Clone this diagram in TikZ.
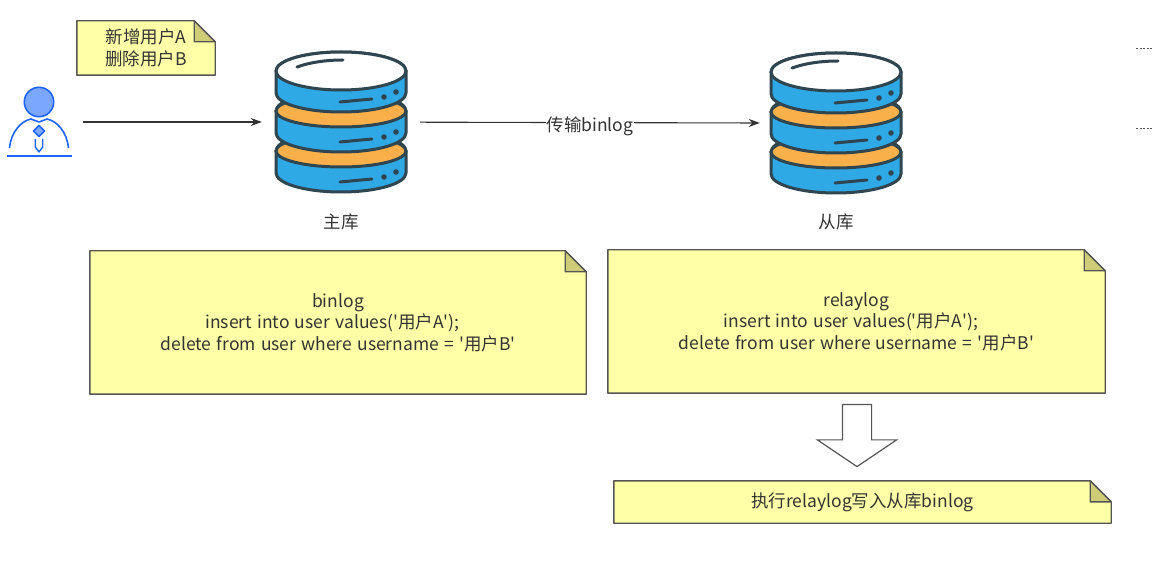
\documentclass[tikz,border=0pt]{standalone}
\usepackage{fontspec}
\setmainfont{Noto Sans CJK SC}[WordSpace=1.33]
\usepackage{xcolor}
\usetikzlibrary{arrows.meta, positioning, shapes.arrows, backgrounds}

\definecolor{inkgray}{HTML}{333333}
\definecolor{noteline}{HTML}{555555}
\definecolor{notefill}{HTML}{FFFFA8}
\definecolor{notefold}{HTML}{CFCC78}
\definecolor{dbline}{HTML}{2F4550}
\definecolor{dbblue}{HTML}{2EA9E6}
\definecolor{dborange}{HTML}{F9B04A}
\definecolor{userline}{HTML}{1F66FF}
\definecolor{userfill}{HTML}{7BA7FF}

% folded corner behind a note node
\newcommand{\notecorner}[1]{
    \begin{scope}[on background layer]
        \draw [noteline, line width=1.4, fill=notefill, line join=round] (#1.south west) -- (#1.north west) -- ([xshift=-21]#1.north east) -- ([yshift=-21]#1.north east) -- (#1.south east) -- cycle;
        \draw [noteline, line width=1.4, fill=notefold, line join=round] ([xshift=-21]#1.north east) -- ([yshift=-21]#1.north east) -- ([xshift=-21,yshift=-21]#1.north east) -- cycle;
    \end{scope}
}

\tikzset{
    dblayer/.pic={
        \draw [dbline, line width=3, fill=dbblue, line join=round] (-65,0) -- (-65,-22) arc[start angle=180, end angle=360, x radius=65, y radius=19] -- (65,0) arc[start angle=0, end angle=180, x radius=65, y radius=19] -- cycle;
        \draw [dbline, line width=3, line cap=round] (-1,-31) -- (31,-28);
        \fill [dbline] (43,-26) circle (2.8) (55,-21) circle (2.8);
    },
    dbstack/.pic={
        \pic at (0,-29) {dblayer};
        \draw [dbline, line width=3, fill=dborange] (0,-29) ellipse (65 and 16);
        \pic at (0,11) {dblayer};
        \draw [dbline, line width=3, fill=dborange] (0,11) ellipse (65 and 16);
        \pic at (0,51) {dblayer};
        \draw [dbline, line width=3, fill=white] (0,51) ellipse (65 and 19);
        \draw [dbline, line width=3, line cap=round] (-44,55) .. controls (-30,60) and (-14,62) .. (2,62);
    }
}

\begin{document}
\begin{tikzpicture}[x=1pt, y=1pt, font=\fontsize{17.5}{21.5}\selectfont, text=inkgray]
    \tikzstyle{note} = [rectangle, inner sep=0pt, align=center, text=inkgray]
    \tikzstyle{holder} = [rectangle, inner sep=0pt, minimum width=158, minimum height=140]
    \tikzstyle{arrow} = [draw=inkgray, line width=1.1, -{Stealth[length=11, width=8]}]

    \useasboundingbox (0,0) rectangle (1152,-561);

    \node (user) [rectangle, inner sep=0pt, minimum width=88, minimum height=70] at (39,-122) {};
    \node (master) [holder] at (341,-122) {};
    \node (slave) [holder] at (836,-123) {};

    \pic at (master.center) {dbstack};
    \pic at (slave.center) {dbstack};

    % user figure
    \draw [userline, line width=1.6, fill=userfill] ([yshift=20]user.center) circle (14.7);
    \draw [userline, line width=1.6, line join=round] ([shift={(-29.5,-26)}]user.center) .. controls ++(1.5,16) and ++(-10,-2) .. ([shift={(-8,3)}]user.center) -- (user.center) -- ([shift={(8,3)}]user.center) .. controls ++(10,-2) and ++(-1.5,16) .. ([shift={(29.5,-26)}]user.center);
    \draw [userline, line width=1.6, fill=userfill, line join=round] ([shift={(0,-3.5)}]user.center) -- ([shift={(5.5,-9)}]user.center) -- ([shift={(0,-14.5)}]user.center) -- ([shift={(-5.5,-9)}]user.center) -- cycle;
    \draw [userline, line width=1.4, line join=round] ([shift={(-3.7,-17)}]user.center) -- ([shift={(-3.7,-25)}]user.center) -- ([shift={(0,-30)}]user.center) -- ([shift={(3.7,-25)}]user.center) -- ([shift={(3.7,-17)}]user.center);
    \draw [userline, line width=1.6] ([shift={(-32.5,-34)}]user.center) -- ([shift={(32.5,-34)}]user.center);

    \node (masterlabel) [below=18pt of master] {主库};
    \node (slavelabel) [below=17pt of slave] {从库};

    \node (opsnote) [note, minimum width=138, minimum height=54] at (146,-48) {新增用户A\\删除用户B};
    \node (binlognote) [note, minimum width=496, minimum height=143] at (338,-322.5) {binlog\\insert into user values(\textquotesingle 用户A\textquotesingle );\hspace*{11pt}\mbox{}\\delete from user where username = \textquotesingle 用户B\textquotesingle};
    \node (relaynote) [note, minimum width=497, minimum height=143] at (856.5,-321.5) {relaylog\\insert into user values(\textquotesingle 用户A\textquotesingle );\hspace*{11pt}\mbox{}\\delete from user where username = \textquotesingle 用户B\textquotesingle};
    \node (applynote) [note, minimum width=497, minimum height=42] at (862.5,-502) {执行relaylog写入从库binlog};
    \notecorner{opsnote}
    \notecorner{binlognote}
    \notecorner{relaynote}
    \notecorner{applynote}

    \node (down) [single arrow, draw=noteline, line width=1.2, fill=white, rotate=-90, anchor=tail, inner xsep=0pt, inner ysep=14pt, minimum height=62, single arrow head extend=25, single arrow tip angle=112, single arrow head indent=0pt] at (857,-404) {};

    \draw [arrow] (user) -- (master);
    \draw [arrow] (master) -- node[fill=white, inner sep=1pt, yshift=-3.5] {传输binlog} ([xshift=3]slave.west);

    \draw [noteline, line width=1.2, dash pattern=on 2.2pt off 1.3pt] (1136,-48.6) -- (1152,-48.6);
    \draw [noteline, line width=1.2, dash pattern=on 2.2pt off 1.3pt] (1136,-128.6) -- (1152,-128.6);
\end{tikzpicture}
\end{document}
